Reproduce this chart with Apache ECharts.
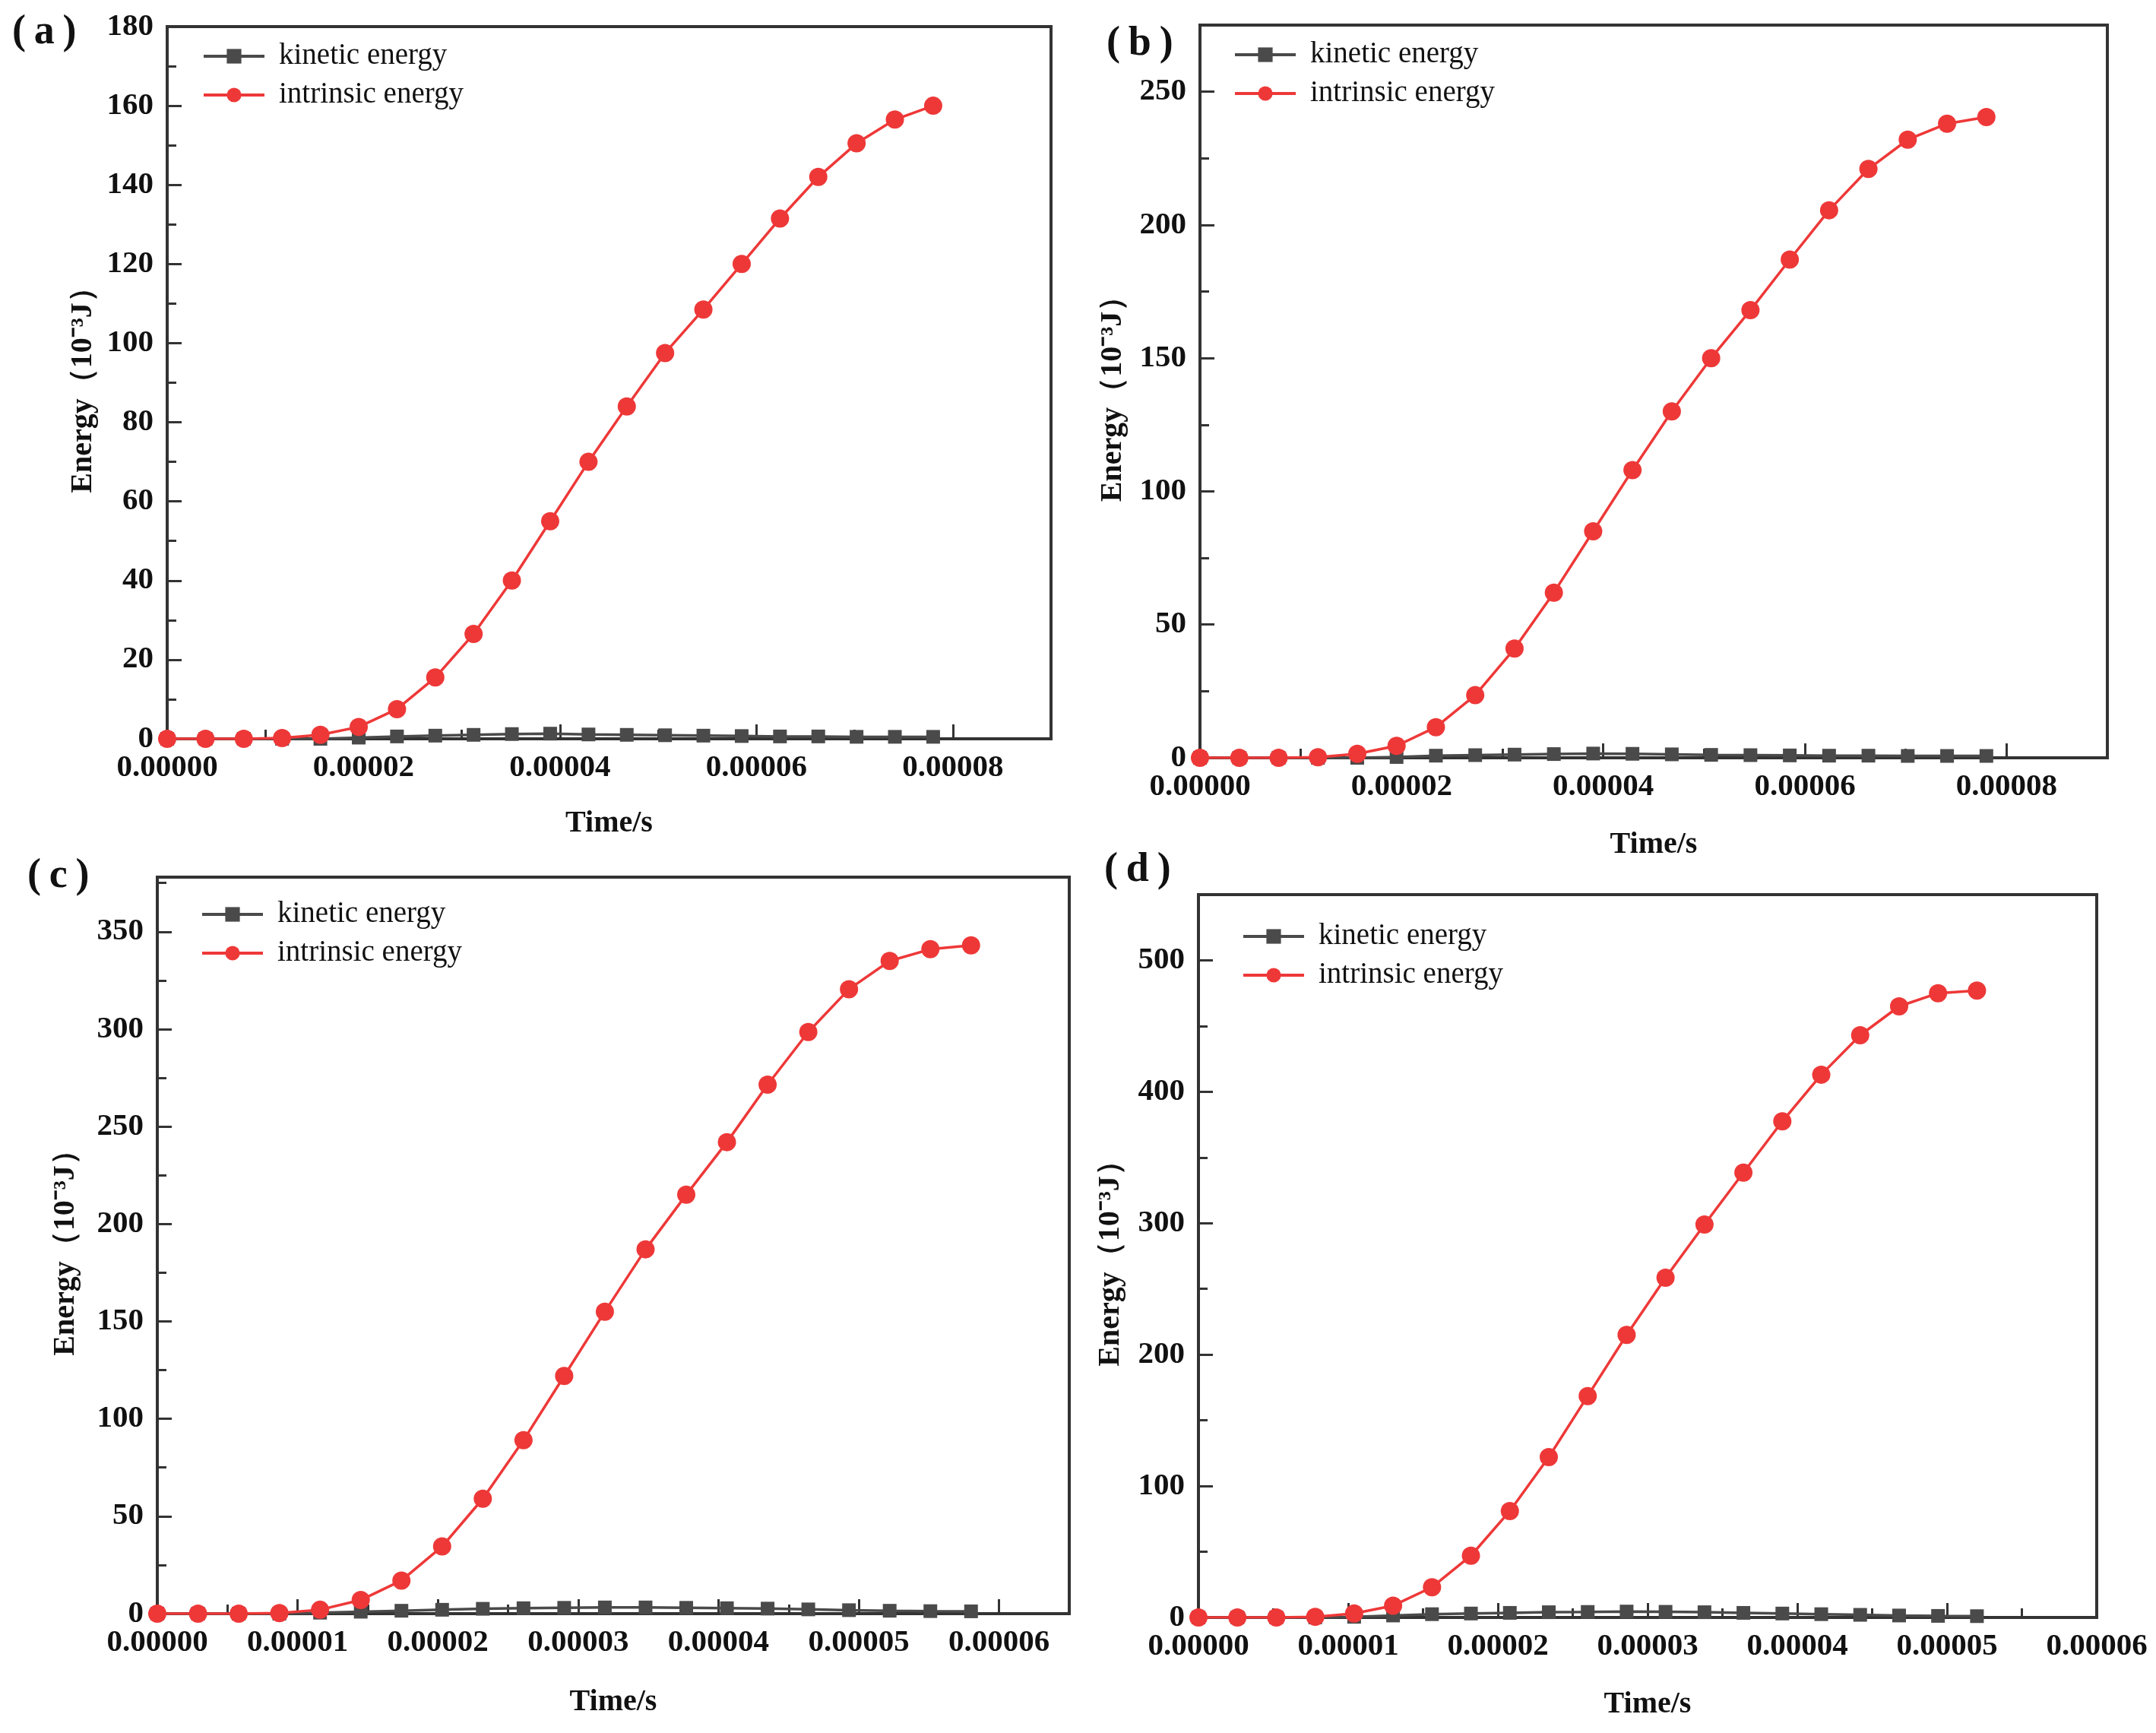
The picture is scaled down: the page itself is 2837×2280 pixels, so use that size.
<!DOCTYPE html>
<html>
<head>
<meta charset="utf-8">
<script src="https://cdn.jsdelivr.net/npm/echarts@6/dist/echarts.min.js"></script>
<style>
  html, body { margin: 0; padding: 0; background: #fff; }
  #chart { width: 2837px; height: 2280px; }
</style>
</head>
<body>
<div id="chart"></div>
<script>
// time stamps (s) of the plotted points, one list per panel
var timeA = [0, 3.9e-6, 7.8e-6, 1.17e-5, 1.56e-5, 1.95e-5, 2.34e-5, 2.73e-5, 3.12e-5, 3.51e-5, 3.9e-5,
  4.29e-5, 4.68e-5, 5.07e-5, 5.46e-5, 5.85e-5, 6.24e-5, 6.63e-5, 7.02e-5, 7.41e-5, 7.8e-5];
var timeB = [0, 3.9e-6, 7.8e-6, 1.17e-5, 1.56e-5, 1.95e-5, 2.34e-5, 2.73e-5, 3.12e-5, 3.51e-5, 3.9e-5,
  4.29e-5, 4.68e-5, 5.07e-5, 5.46e-5, 5.85e-5, 6.24e-5, 6.63e-5, 7.02e-5, 7.41e-5, 7.8e-5];
var timeC = [0, 2.9e-6, 5.8e-6, 8.7e-6, 1.16e-5, 1.45e-5, 1.74e-5, 2.03e-5, 2.32e-5, 2.61e-5, 2.9e-5,
  3.19e-5, 3.48e-5, 3.77e-5, 4.06e-5, 4.35e-5, 4.64e-5, 4.93e-5, 5.22e-5, 5.51e-5, 5.8e-5];
var timeD = [0, 2.6e-6, 5.2e-6, 7.8e-6, 1.04e-5, 1.3e-5, 1.56e-5, 1.82e-5, 2.08e-5, 2.34e-5, 2.6e-5,
  2.86e-5, 3.12e-5, 3.38e-5, 3.64e-5, 3.9e-5, 4.16e-5, 4.42e-5, 4.68e-5, 4.94e-5, 5.2e-5];

// energies in 10^-3 J
var kineticA = [0, 0, 0, 0, 0, 0.3, 0.6, 0.8, 1.0, 1.2, 1.3, 1.1, 1.0, 0.9, 0.8, 0.7, 0.6, 0.6, 0.5, 0.5, 0.5];
var intrinsicA = [0, 0, 0, 0.2, 1, 3, 7.5, 15.5, 26.5, 40, 55, 70, 84, 97.5, 108.5, 120, 131.5, 142, 150.5, 156.5, 160];

var kineticB = [0, 0, 0, 0, 0, 0.3, 0.8, 1.0, 1.2, 1.4, 1.6, 1.5, 1.3, 1.1, 1.0, 0.9, 0.8, 0.8, 0.7, 0.7, 0.7];
var intrinsicB = [0, 0, 0, 0.2, 1.5, 4.5, 11.5, 23.5, 41, 62, 85, 108, 130, 150, 168, 187, 205.5, 221, 232, 238, 240.5];

var kineticC = [0, 0, 0, 0, 0.5, 1.0, 1.5, 2.0, 2.5, 2.8, 3.0, 3.2, 3.2, 3.0, 2.8, 2.6, 2.2, 1.8, 1.5, 1.3, 1.2];
var intrinsicC = [0, 0, 0, 0.3, 2, 7, 17, 34.5, 59, 89, 122, 155, 187, 215, 242, 271.5, 298.5, 320.5, 335, 341, 343];

var kineticD = [0, 0, 0, 0, 0.5, 1.5, 2.5, 3.0, 3.5, 4.0, 4.2, 4.5, 4.3, 4.0, 3.5, 3.0, 2.5, 2.0, 1.5, 1.2, 1.0];
var intrinsicD = [0, 0, 0, 0.5, 3, 9, 23, 47, 81, 122, 168.5, 215, 258.5, 299, 338.5, 377.5, 413, 443, 465, 475, 477];

var panelLabels = ['(\u2009a\u2009)', '(\u2009b\u2009)', '(\u2009c\u2009)', '(\u2009d\u2009)'];
var seriesNames = ['kinetic energy', 'intrinsic energy'];

var serif = 'Liberation Serif';
var axisColor = '#333333';
var red = '#ee3838';
var gray = '#4a4a4a';

// layout of each panel (pixels)
var panels = [
  { time: timeA, kin: kineticA, inn: intrinsicA, grid: [220, 35, 1163, 937], xMax: 9e-5, xStep: 2e-5, yMax: 180, yStep: 20,
    showMaxX: false, showMaxY: true, xGap: 92, yGap: 90, legend: [266, 54], label: [60, 48] },
  { time: timeB, kin: kineticB, inn: intrinsicB, grid: [1579, 33, 1194, 964], xMax: 9e-5, xStep: 2e-5, yMax: 275, yStep: 50,
    showMaxX: false, showMaxY: false, xGap: 95, yGap: 94, legend: [1623, 52], label: [1500, 63] },
  { time: timeC, kin: kineticC, inn: intrinsicC, grid: [207, 1154, 1200, 969], xMax: 6.5e-5, xStep: 1e-5, yMax: 378, yStep: 50,
    showMaxX: false, showMaxY: false, xGap: 97, yGap: 100, legend: [264, 1183], label: [80, 1158] },
  { time: timeD, kin: kineticD, inn: intrinsicD, grid: [1577, 1177, 1182, 951], xMax: 6e-5, xStep: 1e-5, yMax: 550, yStep: 100,
    showMaxX: true, showMaxY: false, xGap: 95, yGap: 95, legend: [1634, 1212], label: [1497, 1150] }
];

var option = {
  backgroundColor: '#fff',
  animation: false,
  textStyle: { fontFamily: serif },
  grid: [], xAxis: [], yAxis: [], series: [], legend: [], graphic: []
};

function zip(xs, ys) {
  return xs.map(function (x, i) { return [x, ys[i]]; });
}

panels.forEach(function (p, i) {
  option.grid.push({
    left: p.grid[0], top: p.grid[1], width: p.grid[2], height: p.grid[3],
    show: true, borderColor: axisColor, borderWidth: 4, backgroundColor: 'transparent'
  });
  option.xAxis.push({
    type: 'value', gridIndex: i, min: 0, max: p.xMax, interval: p.xStep,
    name: 'Time/s', nameLocation: 'middle', nameGap: p.xGap,
    nameTextStyle: { fontFamily: serif, fontWeight: 'bold', fontSize: 40, color: '#111' },
    axisLine: { show: true, onZero: false, lineStyle: { color: axisColor, width: 4 } },
    axisTick: { show: true, inside: true, length: 19, lineStyle: { color: axisColor, width: 3 } },
    minorTick: { show: true, splitNumber: 2, length: 12, lineStyle: { color: axisColor, width: 3 } },
    splitLine: { show: false },
    axisLabel: {
      fontFamily: serif, fontWeight: 'bold', fontSize: 41, color: '#111', margin: 18,
      showMaxLabel: p.showMaxX,
      formatter: function (v) { return v.toFixed(5); }
    }
  });
  option.yAxis.push({
    type: 'value', gridIndex: i, min: 0, max: p.yMax, interval: p.yStep,
    name: 'Energy（10⁻³J）', nameLocation: 'middle', nameGap: p.yGap, nameRotate: 90,
    nameTextStyle: { fontFamily: serif, fontWeight: 'bold', fontSize: 40, color: '#111' },
    axisLine: { show: true, onZero: false, lineStyle: { color: axisColor, width: 4 } },
    axisTick: { show: true, inside: true, length: 19, lineStyle: { color: axisColor, width: 3 } },
    minorTick: { show: true, splitNumber: 2, length: 12, lineStyle: { color: axisColor, width: 3 } },
    splitLine: { show: false },
    axisLabel: {
      fontFamily: serif, fontWeight: 'bold', fontSize: 41, color: '#111', margin: 18,
      showMaxLabel: p.showMaxY
    }
  });
  option.series.push({
    name: seriesNames[0], type: 'line', xAxisIndex: i, yAxisIndex: i,
    data: zip(p.time, p.kin),
    symbol: 'rect', symbolSize: 18,
    lineStyle: { color: gray, width: 3.5 },
    itemStyle: { color: gray },
    z: 3
  });
  option.series.push({
    name: seriesNames[1], type: 'line', xAxisIndex: i, yAxisIndex: i,
    data: zip(p.time, p.inn),
    symbol: 'circle', symbolSize: 24,
    lineStyle: { color: red, width: 3.5 },
    itemStyle: { color: red },
    z: 4
  });
  option.legend.push({
    data: seriesNames, orient: 'vertical', left: p.legend[0], top: p.legend[1],
    padding: 0, itemWidth: 80, itemHeight: 24, itemGap: 11,
    selectedMode: false,
    lineStyle: { width: 4 },
    textStyle: { fontFamily: serif, fontSize: 39, color: '#111', lineHeight: 40, padding: [0, 0, 0, 14] }
  });
  option.graphic.push({
    type: 'text', left: p.label[0] - 44, top: p.label[1] - 32,
    style: { text: panelLabels[i], fontFamily: serif, fontWeight: 'bold', fontSize: 54, fill: '#111' }
  });
});

var chart = echarts.init(document.getElementById('chart'));
chart.setOption(option);
</script>
</body>
</html>
